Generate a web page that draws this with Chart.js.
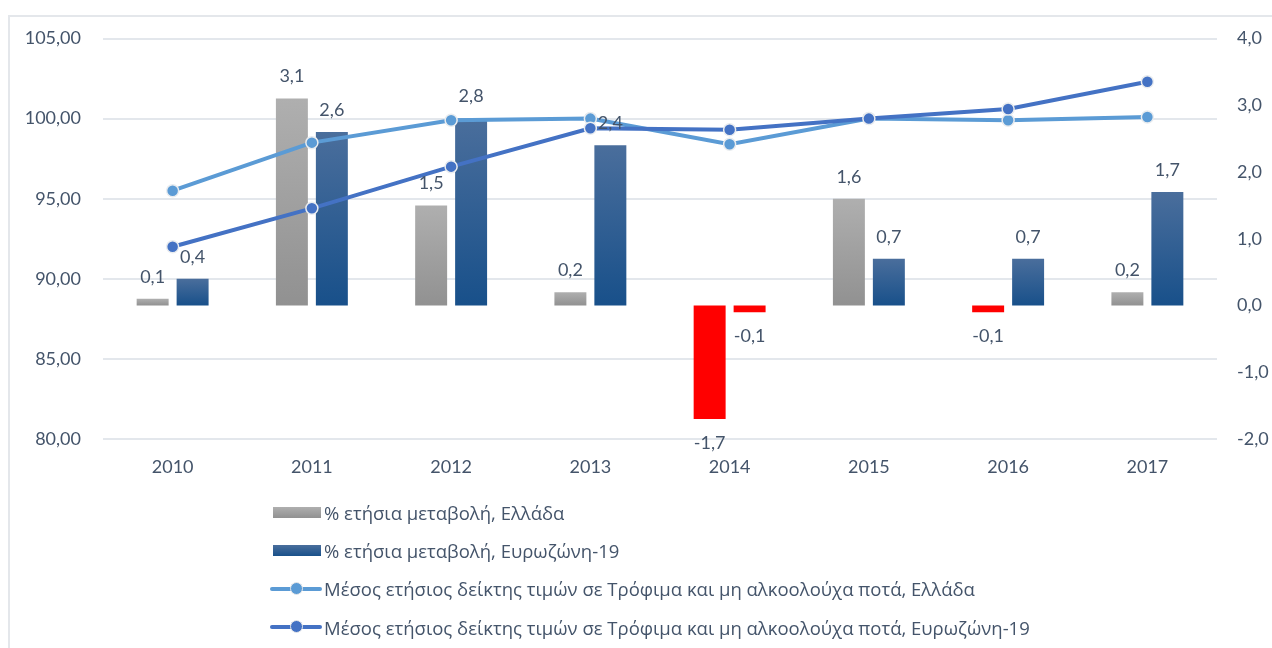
<!DOCTYPE html>
<html>
<head>
<meta charset="utf-8">
<script src="https://cdn.jsdelivr.net/npm/chart.js@4.4.1/dist/chart.umd.min.js"></script>
<style>
  html, body { margin: 0; padding: 0; background: #fff; }
  body { width: 1272px; height: 648px; position: relative; overflow: hidden; font-family: Lato, "Open Sans", sans-serif; }
  #frame { position: absolute; left: 8px; top: 15px; width: 1300px; height: 700px; border-left: 2px solid #e4e7eb; border-top: 2px solid #e4e7eb; }
  #wrap { position: absolute; left: 0; top: 0; width: 1272px; height: 648px; }
  #legend { position: absolute; left: 270px; top: 500px; margin: 0; padding: 0; list-style: none; }
  #legend li { height: 38.3px; display: flex; align-items: center; position: relative; top: -7px; }
  #legend .box { width: 48px; height: 11px; margin-left: 3px; margin-right: 3px; }
  #legend .ln { width: 52px; height: 14px; position: relative; margin-right: 2px; }
  #legend .ln i { position: absolute; left: 0; right: 0; top: 5px; height: 4px; border-radius: 2px; }
  #legend .ln b { position: absolute; left: 20px; top: 0; width: 11px; height: 11px; border-radius: 50%; border: 1.5px solid #e8e8e8; }
  #legend span.t { font-family: "Open Sans", sans-serif; font-size: 18.5px; color: #44546a; white-space: nowrap; }
</style>
</head>
<body>
<div id="frame"></div>
<div id="wrap"><canvas id="chart"></canvas></div>
<ul id="legend"></ul>
<script>
"use strict";

var YEARS = ["2010", "2011", "2012", "2013", "2014", "2015", "2016", "2017"];
var CHANGE_GR = [0.1, 3.1, 1.5, 0.2, -1.7, 1.6, -0.1, 0.2];
var CHANGE_EZ = [0.4, 2.6, 2.8, 2.4, -0.1, 0.7, 0.7, 1.7];
var INDEX_GR = [95.5, 98.5, 99.9, 100.0, 98.4, 100.0, 99.9, 100.1];
var INDEX_EZ = [92.0, 94.4, 97.0, 99.4, 99.3, 100.0, 100.6, 102.3];

var NAMES = [
  "% ετήσια  μεταβολή, Ελλάδα",
  "% ετήσια  μεταβολή, Ευρωζώνη-19",
  "Μέσος ετήσιος δείκτης  τιμών σε Τρόφιμα και μη αλκοολούχα ποτά, Ελλάδα",
  "Μέσος ετήσιος δείκτης  τιμών σε Τρόφιμα και μη αλκοολούχα ποτά, Ευρωζώνη-19"
];

var TEXT = "#44546a";
var LIGHT_BLUE = "#5b9bd5";
var DARK_BLUE = "#4472c4";
var NEG = "#ff0000";
var GREY_TOP = "#afafaf", GREY_BOT = "#919191";
var BLUE_TOP = "#4a6e9c", BLUE_BOT = "#18508a";

function comma(v, d) { return v.toFixed(d).replace(".", ","); }

function barFill(top, bot) {
  return function (c) {
    if (c.type !== "data") return bot;
    var v = c.raw;
    if (v < 0) return NEG;
    var chart = c.chart;
    if (!chart.chartArea) return bot;
    var s = chart.scales.y1;
    var y0 = s.getPixelForValue(v), y1 = s.getPixelForValue(0);
    if (y1 - y0 < 1) y0 = y1 - 1;
    var g = chart.ctx.createLinearGradient(0, y0, 0, y1);
    g.addColorStop(0, top);
    g.addColorStop(1, bot);
    return g;
  };
}

// value labels above / below the bars
var barLabels = {
  id: "barLabels",
  afterDatasetsDraw: function (chart) {
    var ctx = chart.ctx;
    ctx.save();
    ctx.font = "18px Lato, 'Open Sans', sans-serif";
    ctx.fillStyle = TEXT;
    ctx.textAlign = "center";
    ctx.textBaseline = "middle";
    chart.data.datasets.forEach(function (ds, i) {
      if (ds.type !== "bar") return;
      chart.getDatasetMeta(i).data.forEach(function (el, j) {
        var v = ds.data[j];
        var y = v >= 0 ? el.y - 22 : el.y + 24;
        ctx.fillText(comma(v, 1), el.x, y);
      });
    });
    ctx.restore();
  }
};

var tickFont = { family: "Lato, 'Open Sans', sans-serif", size: 18 };

var chart = new Chart(document.getElementById("chart"), {
  type: "bar",
  data: {
    labels: YEARS,
    datasets: [
      {
        type: "bar", label: NAMES[0], data: CHANGE_GR, yAxisID: "y1", order: 2,
        backgroundColor: barFill(GREY_TOP, GREY_BOT),
        categoryPercentage: 0.574, barPercentage: 0.8
      },
      {
        type: "bar", label: NAMES[1], data: CHANGE_EZ, yAxisID: "y1", order: 3,
        backgroundColor: barFill(BLUE_TOP, BLUE_BOT),
        categoryPercentage: 0.574, barPercentage: 0.8
      },
      {
        type: "line", label: NAMES[2], data: INDEX_GR, yAxisID: "y", order: 1,
        borderColor: LIGHT_BLUE, backgroundColor: LIGHT_BLUE, borderWidth: 4,
        pointRadius: 6, pointBorderColor: "#e9ecef", pointBorderWidth: 1.5,
        pointBackgroundColor: LIGHT_BLUE, tension: 0, fill: false
      },
      {
        type: "line", label: NAMES[3], data: INDEX_EZ, yAxisID: "y", order: 0,
        borderColor: DARK_BLUE, backgroundColor: DARK_BLUE, borderWidth: 4,
        pointRadius: 6, pointBorderColor: "#e9ecef", pointBorderWidth: 1.5,
        pointBackgroundColor: DARK_BLUE, tension: 0, fill: false
      }
    ]
  },
  options: {
    responsive: true, maintainAspectRatio: false, animation: false,
    layout: { padding: { top: 38.5, bottom: 169, left: 0, right: 0 } },
    plugins: { legend: { display: false }, tooltip: { enabled: false } },
    scales: {
      x: {
        grid: { display: false, drawTicks: false }, border: { display: false },
        ticks: { color: TEXT, font: tickFont, padding: 17 },
        afterFit: function (s) { s.height = 40; }
      },
      y: {
        position: "left", min: 80, max: 105,
        grid: { color: "#e3e7ec", lineWidth: 2, drawTicks: false }, border: { display: false },
        ticks: { stepSize: 5, color: TEXT, font: tickFont, padding: 22, callback: function (v) { return comma(v, 2); } },
        afterFit: function (s) { s.width = 103; }
      },
      y1: {
        position: "right", min: -2, max: 4,
        grid: { display: false, drawTicks: false }, border: { display: false },
        ticks: { stepSize: 1, color: TEXT, font: tickFont, padding: 20, callback: function (v) { return comma(v, 1); } },
        afterFit: function (s) { s.width = 55; }
      }
    }
  },
  plugins: [barLabels]
});

// html legend, one entry per row
var legend = document.getElementById("legend");
[
  { kind: "bar", c1: GREY_TOP, c2: GREY_BOT },
  { kind: "bar", c1: BLUE_TOP, c2: BLUE_BOT },
  { kind: "line", c1: LIGHT_BLUE },
  { kind: "line", c1: DARK_BLUE }
].forEach(function (m, i) {
  var li = document.createElement("li");
  var mark;
  if (m.kind === "bar") {
    mark = '<span class="box" style="background:linear-gradient(' + m.c1 + ',' + m.c2 + ')"></span>';
  } else {
    mark = '<span class="ln"><i style="background:' + m.c1 + '"></i><b style="background:' + m.c1 + '"></b></span>';
  }
  li.innerHTML = mark + '<span class="t">' + NAMES[i] + '</span>';
  legend.appendChild(li);
});
</script>
</body>
</html>
